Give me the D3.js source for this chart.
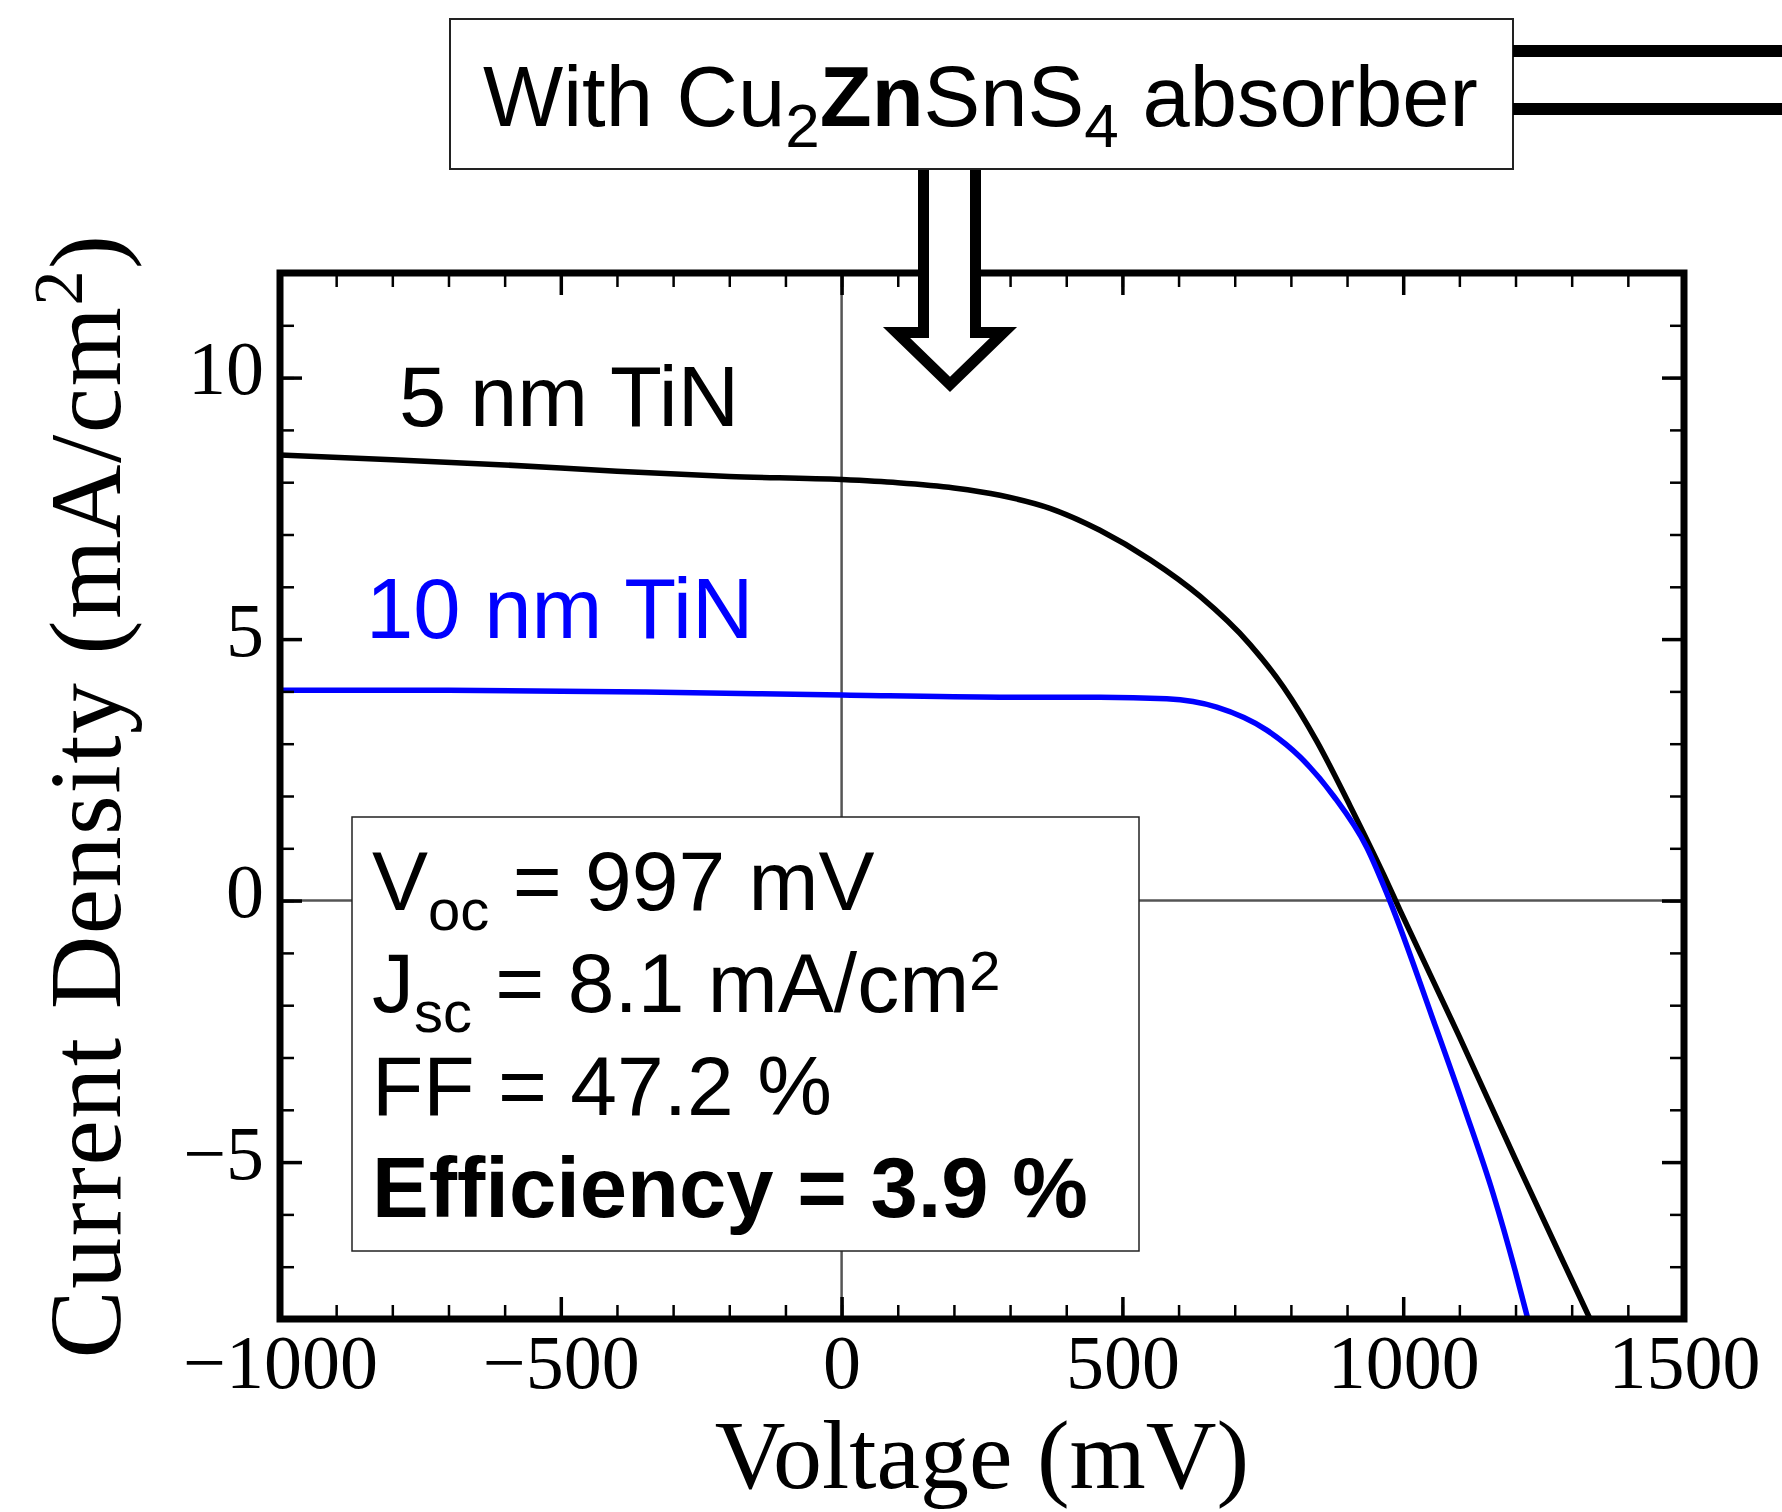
<!DOCTYPE html>
<html>
<head>
<meta charset="utf-8">
<script src="https://cdn.jsdelivr.net/npm/d3@7"></script>
<style>
  body { margin: 0; background: #fff; }
  svg { display: block; }
</style>
</head>
<body>
<div id="chart"></div>
<script>
const width = 1782,
  height = 1512;

// plot frame (pixels)
const plotLeft = 280, plotRight = 1684, plotTop = 273, plotBottom = 1319;

// axis ranges and ticks
const xDomain = [-1000, 1500];
const yDomain = [-8, 12];
const xMajor = [-1000, -500, 0, 500, 1000, 1500];
const xMinor = d3.range(-1000, 1501, 100);
const yMajor = [-5, 0, 5, 10];
const yMinor = d3.range(-8, 13, 1);

// J-V curves (mV, mA/cm2)
const v5nm = [-1000, -800, -600, -400, -200, 0, 100, 200, 282, 371, 460, 549, 638, 727, 787, 846, 905, 965, 995, 1100, 1200, 1300, 1345];
const j5nm = [8.52, 8.43, 8.33, 8.21, 8.11, 8.05, 7.99, 7.89, 7.75, 7.5, 7.08, 6.52, 5.82, 4.9, 4.08, 3.05, 1.82, 0.5, -0.2, -2.6, -4.95, -7.25, -8.28];
const v10nm = [-1000, -700, -350, 0, 282, 460, 579, 668, 757, 816, 876, 935, 976, 1054, 1110, 1160, 1200, 1222];
const j10nm = [4.02, 4.02, 3.99, 3.93, 3.89, 3.89, 3.86, 3.70, 3.26, 2.75, 2.0, 1.02, 0.0, -2.3, -4.0, -5.6, -7.1, -8.0];

const series = [
  { name: "5 nm TiN", v: v5nm, j: j5nm, color: "#000000" },
  { name: "10 nm TiN", v: v10nm, j: j10nm, color: "#0000ff" }
];

const x = d3.scaleLinear().domain(xDomain).range([plotLeft, plotRight]);
const y = d3.scaleLinear().domain(yDomain).range([plotBottom, plotTop]);

const svg = d3.select("#chart")
  .append("svg")
  .attr("width", width)
  .attr("height", height)
  .attr("viewBox", [0, 0, width, height]);

svg.append("clipPath")
  .attr("id", "plotclip")
  .append("rect")
  .attr("x", plotLeft).attr("y", plotTop)
  .attr("width", plotRight - plotLeft).attr("height", plotBottom - plotTop);

// zero lines
svg.append("line")
  .attr("x1", x(0)).attr("x2", x(0))
  .attr("y1", plotTop).attr("y2", plotBottom)
  .attr("stroke", "#555").attr("stroke-width", 2.5);
svg.append("line")
  .attr("x1", plotLeft).attr("x2", plotRight)
  .attr("y1", y(0)).attr("y2", y(0))
  .attr("stroke", "#555").attr("stroke-width", 2.5);

// curves
const line = d3.line()
  .x(d => x(d[0]))
  .y(d => y(d[1]))
  .curve(d3.curveMonotoneX);

svg.append("g")
  .attr("clip-path", "url(#plotclip)")
  .selectAll("path")
  .data(series)
  .join("path")
  .attr("d", d => line(d3.zip(d.v, d.j)))
  .attr("fill", "none")
  .attr("stroke", d => d.color)
  .attr("stroke-width", 5.5)
  .attr("stroke-linejoin", "round");

// series labels
const sans = "'Liberation Sans', Arial, sans-serif";
const serif = "'Liberation Serif', 'Times New Roman', serif";

svg.append("text")
  .attr("x", 399).attr("y", 426)
  .attr("font-family", sans).attr("font-size", 85)
  .attr("fill", series[0].color)
  .text(series[0].name);
svg.append("text")
  .attr("x", 366).attr("y", 638)
  .attr("font-family", sans).attr("font-size", 85)
  .attr("fill", series[1].color)
  .text(series[1].name);

// stats box
svg.append("rect")
  .attr("x", 352).attr("y", 817)
  .attr("width", 787).attr("height", 434)
  .attr("fill", "white")
  .attr("stroke", "#222").attr("stroke-width", 1.5);

const stats = svg.append("g")
  .attr("font-family", sans)
  .attr("font-size", 84)
  .attr("fill", "black");

let t = stats.append("text").attr("x", 372).attr("y", 910);
t.append("tspan").text("V");
t.append("tspan").attr("font-size", 58).attr("dy", 20).text("oc");
t.append("tspan").attr("dy", -20).text(" = 997 mV");

t = stats.append("text").attr("x", 372).attr("y", 1012);
t.append("tspan").text("J");
t.append("tspan").attr("font-size", 58).attr("dy", 20).text("sc");
t.append("tspan").attr("dy", -20).text(" = 8.1 mA/cm");
t.append("tspan").attr("font-size", 56).attr("dy", -22).text("2");

stats.append("text").attr("x", 372).attr("y", 1115).text("FF = 47.2 %");
stats.append("text").attr("x", 372).attr("y", 1217)
  .attr("font-weight", "bold").attr("font-size", 85)
  .text("Efficiency = 3.9 %");

// frame
svg.append("rect")
  .attr("x", plotLeft).attr("y", plotTop)
  .attr("width", plotRight - plotLeft).attr("height", plotBottom - plotTop)
  .attr("fill", "none")
  .attr("stroke", "black").attr("stroke-width", 7);

// ticks, all pointing inward
function ticks(axis, pos, values, size, sw, fmt) {
  const g = svg.append("g")
    .attr("transform", pos)
    .call(axis.tickValues(values).tickSize(-size).tickFormat(fmt || ""));
  g.select(".domain").remove();
  g.selectAll(".tick line").attr("stroke", "black").attr("stroke-width", sw);
  return g;
}

ticks(d3.axisTop(x), `translate(0,${plotTop})`, xMinor, 14, 2.5);
ticks(d3.axisTop(x), `translate(0,${plotTop})`, xMajor, 22, 3.5);
ticks(d3.axisRight(y), `translate(${plotRight},0)`, yMinor, 14, 2.5);
ticks(d3.axisRight(y), `translate(${plotRight},0)`, yMajor, 22, 3.5);
ticks(d3.axisBottom(x), `translate(0,${plotBottom})`, xMinor, 14, 2.5);
ticks(d3.axisLeft(y), `translate(${plotLeft},0)`, yMinor, 14, 2.5);

const xAxis = ticks(d3.axisBottom(x), `translate(0,${plotBottom})`, xMajor, 22, 3.5, d3.format("d"));
xAxis.selectAll(".tick text")
  .attr("y", 69).attr("dy", null)
  .attr("font-family", serif).attr("font-size", 76)
  .attr("fill", "black");

const yAxis = ticks(d3.axisLeft(y), `translate(${plotLeft},0)`, yMajor, 22, 3.5, d3.format("d"));
yAxis.selectAll(".tick text")
  .attr("x", -16).attr("y", 16).attr("dy", null)
  .attr("font-family", serif).attr("font-size", 76)
  .attr("fill", "black");

// axis titles
svg.append("text")
  .attr("x", (plotLeft + plotRight) / 2).attr("y", 1488)
  .attr("text-anchor", "middle")
  .attr("font-family", serif).attr("font-size", 98)
  .text("Voltage (mV)");

const yl = svg.append("text")
  .attr("transform", `translate(120,${(plotTop + plotBottom) / 2}) rotate(-90)`)
  .attr("text-anchor", "middle")
  .attr("font-family", serif).attr("font-size", 102)
  .attr("letter-spacing", 1.5);
yl.append("tspan").text("Current Density (mA/cm");
yl.append("tspan").attr("font-size", 70).attr("dy", -38).text("2");
yl.append("tspan").attr("dy", 38).text(")");

// hollow arrow from the title box down into the plot
svg.append("path")
  .attr("d", "M923.5,169 L923.5,332.5 L896.5,332.5 L950,384.4 L1003.5,332.5 L975.5,332.5 L975.5,169")
  .attr("fill", "white")
  .attr("stroke", "black")
  .attr("stroke-width", 11)
  .attr("stroke-linejoin", "miter");

// title box
svg.append("rect")
  .attr("x", 450).attr("y", 19)
  .attr("width", 1063).attr("height", 150)
  .attr("fill", "white")
  .attr("stroke", "#222").attr("stroke-width", 2);

const title = svg.append("text")
  .attr("x", 483).attr("y", 126)
  .attr("font-family", sans).attr("font-size", 85)
  .attr("fill", "black");
title.append("tspan").text("With Cu");
title.append("tspan").attr("font-size", 62).attr("dy", 21).text("2");
title.append("tspan").attr("dy", -21).attr("font-weight", "bold").text("Zn");
title.append("tspan").text("SnS");
title.append("tspan").attr("font-size", 62).attr("dy", 21).text("4");
title.append("tspan").attr("dy", -21).text(" absorber");

// connector bars on the right of the title box
svg.selectAll(".bar")
  .data([51, 109])
  .join("rect")
  .attr("class", "bar")
  .attr("x", 1513).attr("y", d => d - 6)
  .attr("width", width - 1513).attr("height", 12)
  .attr("fill", "black");
</script>
</body>
</html>
